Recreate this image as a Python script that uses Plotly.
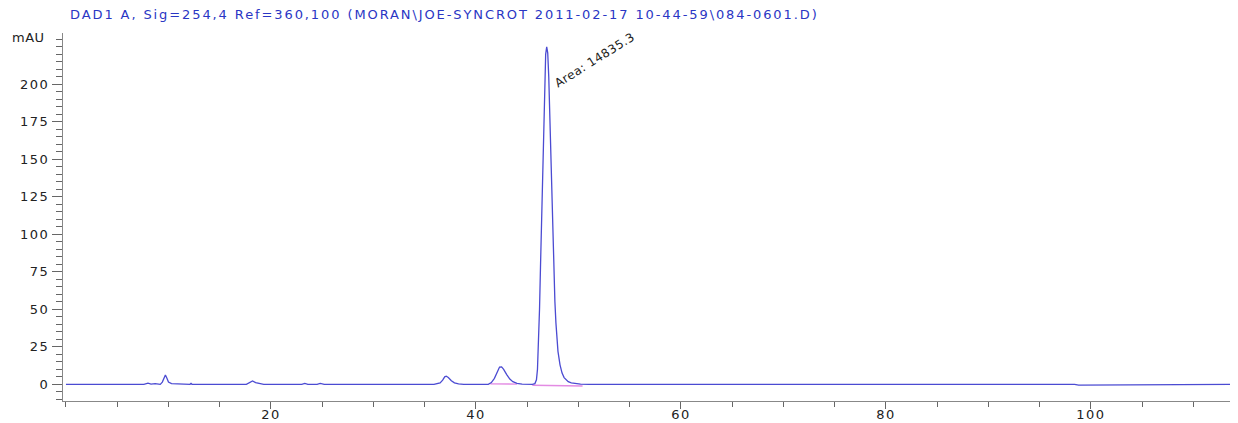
import plotly.graph_objects as go

# Chromatogram signal (time in min, signal in mAU)
time_min = [0, 7.6, 8.0, 8.3, 8.7, 9.2, 9.4, 9.55, 9.7, 9.85, 10.0, 10.3, 10.8, 11.2,
            12.1, 12.2, 12.3, 17.6, 17.9, 18.2, 18.5, 18.9, 19.3,
            23.0, 23.3, 23.6, 24.5, 24.8, 25.2, 35.9,
            36.2, 36.5, 36.75, 36.95, 37.1, 37.3, 37.6, 37.9, 38.3, 38.8,
            41.2, 41.5, 41.8, 42.0, 42.15, 42.3, 42.5, 42.7, 43.0, 43.3, 43.6, 44.0, 44.5, 45.0,
            45.5, 45.75, 45.9, 46.0, 46.1, 46.2, 46.3, 46.4, 46.5, 46.6, 46.7, 46.8, 46.9,
            47.0, 47.1, 47.2, 47.3, 47.4, 47.5, 47.6, 47.7, 47.8, 47.9, 48.0, 48.2, 48.4,
            48.6, 48.8, 49.0, 49.3, 49.7, 50.2, 51.0,
            53.8, 54.2, 54.6, 58.0, 58.4, 58.8, 88.0, 88.3, 88.6, 90.8, 91.0, 92.7, 93.0,
            93.9, 94.5, 98.4, 98.8, 102.3, 102.7, 115.2]
signal_mau = [0, 0, 0.8, 0.2, 0.5, 0, 1.5, 4.5, 6.2, 4.0, 1.5, 0.5, 0.3, 0,
              0, 0.6, 0, 0, 1.0, 2.3, 1.2, 0.4, 0,
              0, 0.6, 0, 0, 0.6, 0, 0,
              0.3, 1.0, 2.8, 5.0, 5.4, 4.6, 2.4, 1.0, 0.3, 0,
              0, 1.2, 4.0, 7.5, 10.0, 11.5, 11.6, 10.0, 6.5, 3.5, 1.8, 0.7, 0.2, 0,
              0, 0.5, 3.0, 10, 25, 50, 80, 110, 145, 180, 207, 220, 225,
              221, 205, 180, 150, 120, 95, 72, 55, 41, 30, 22, 13, 7.5,
              4.5, 2.8, 1.8, 1.0, 0.5, 0.2, 0,
              0, 0.4, 0, 0, 0.5, 0, 0, 0.4, 0, 0, 0.4, 0, 0.4,
              0.4, 0, 0, -0.5, -0.5, 0, 0]

# Integration baselines (pink)
base1_t = [41.4, 44.0]
base1_v = [0.3, 0.2]
base2_t = [45.5, 50.4]
base2_v = [-0.6, -1.1]

y_ticks = [0, 25, 50, 75, 100, 125, 150, 175, 200]
y_labels = ["0", "25", "50", "75", "100", "125", "150", "175", "200"]
x_ticks = [20, 40, 60, 80, 100]
x_labels = ["20", "40", "60", "80", "100"]

title_text = "DAD1 A, Sig=254,4 Ref=360,100 (MORAN\\JOE-SYNCROT 2011-02-17 10-44-59\\084-0601.D)"
area_label = "Area: 14835.3"
label_t, label_v = 51.6, 216.0

FONT = "DejaVu Sans, Verdana, Arial, sans-serif"
PLOT_W = 1183


def spaced(s, px):
    return '<span style="letter-spacing:%spx">%s</span>' % (px, s)


fig = go.Figure()
fig.add_trace(go.Scatter(x=base1_t, y=base1_v, mode="lines",
                         line=dict(color="#e38be3", width=1.3), hoverinfo="skip"))
fig.add_trace(go.Scatter(x=base2_t, y=base2_v, mode="lines",
                         line=dict(color="#e38be3", width=1.3), hoverinfo="skip"))
fig.add_trace(go.Scatter(x=time_min, y=signal_mau, mode="lines",
                         line=dict(color="#4b4bd2", width=1.3)))

fig.add_annotation(x=label_t, y=label_v, xref="x", yref="y", text=spaced(area_label, 0.5),
                   showarrow=False, textangle=-32,
                   font=dict(family=FONT, size=12, color="#222222"))
fig.add_annotation(x=-53 / PLOT_W, y=(368 - 4) / 368, xref="paper", yref="paper",
                   text=spaced("mAU", 0.5), showarrow=False, xanchor="left", yanchor="middle",
                   font=dict(family=FONT, size=13, color="#222222"))
fig.add_annotation(x=5 / PLOT_W, y=(368 + 19) / 368, xref="paper", yref="paper",
                   text=spaced(title_text, 1.9), showarrow=False, xanchor="left",
                   yanchor="middle",
                   font=dict(family=FONT, size=13, color="#2a36c4"))

# the page body adds an 8 px offset, so margins are reduced accordingly
fig.update_layout(
    width=1238, height=423,
    margin=dict(l=55, r=0, t=25, b=30),
    paper_bgcolor="white", plot_bgcolor="white",
    showlegend=False,
    font=dict(family=FONT, size=13, color="#222222"),
)
fig.update_xaxes(range=[-0.29, -0.29 + PLOT_W / 10.25], tickvals=x_ticks,
                 ticktext=[spaced(t, 1.5) for t in x_labels],
                 ticks="outside", ticklen=7, automargin=False, ticklabelstandoff=-6,
                 tickcolor="#666666", showline=True, linecolor="#888888", linewidth=1,
                 showgrid=False, zeroline=False,
                 minor=dict(dtick=5, tick0=0, ticks="outside", ticklen=5, tickcolor="#666666"),
                 tickfont=dict(family=FONT, size=13, color="#222222"))
fig.update_yaxes(range=[-11.1, 234.2], tickvals=y_ticks,
                 ticktext=[spaced(t, 1.5) for t in y_labels],
                 ticks="outside", ticklen=10, automargin=False,
                 tickcolor="#666666", showline=True, linecolor="#888888", linewidth=1,
                 showgrid=False, zeroline=False,
                 minor=dict(dtick=5, tick0=0, ticks="outside", ticklen=6, tickcolor="#666666"),
                 tickfont=dict(family=FONT, size=13, color="#222222"))

fig.write_html("out.html")
